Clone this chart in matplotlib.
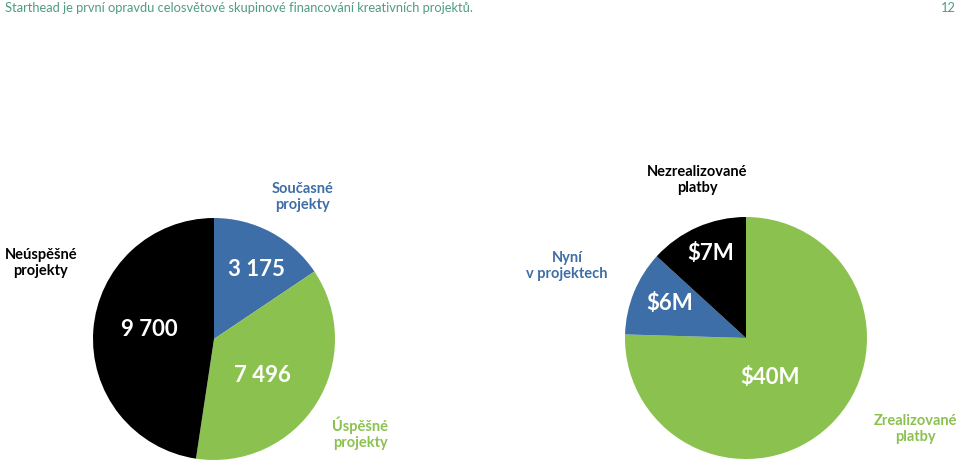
import matplotlib
matplotlib.use("Agg")
import matplotlib.pyplot as plt

plt.rcParams['font.family'] = ['Lato', 'DejaVu Sans']

W, H = 960, 468

title = "Starthead je první opravdu celosvětové skupinové financování kreativních projektů."
page_no = "12"

# Left pie: projects
proj_labels = ["Současné\nprojekty", "Úspěšné\nprojekty", "Neúspěšné\nprojekty"]
proj_values = [3175, 7496, 9700]
proj_texts = ["3 175", "7 496", "9 700"]

# Right pie: payments (millions USD)
pay_labels = ["Zrealizované\nplatby", "Nyní\nv projektech", "Nezrealizované\nplatby"]
pay_values = [40, 6, 7]
pay_texts = ["$40M", "$6M", "$7M"]

BLUE = "#3e6ea7"
GREEN = "#8bc24f"
BLACK = "#000000"
TITLE_C = "#4f9c80"

fig = plt.figure(figsize=(W / 100, H / 100), dpi=100)

def px_axes(cx, cy, r):
    return fig.add_axes([(cx - r) / W, (H - cy - r) / H, 2 * r / W, 2 * r / H])

def ftext(x, y, s, **kw):
    fig.text(x / W, 1 - y / H, s, **kw)

# Left pie
ax1 = px_axes(214, 339, 121)
ax1.pie(proj_values, colors=[BLUE, GREEN, BLACK], startangle=90, counterclock=False,
        radius=1, wedgeprops=dict(linewidth=0))
ax1.set_xlim(-1, 1); ax1.set_ylim(-1, 1); ax1.set_aspect('equal'); ax1.axis('off')

# Right pie
ax2 = px_axes(746, 338, 121)
ax2.pie(pay_values, colors=[GREEN, BLUE, BLACK], startangle=90, counterclock=False,
        radius=1, wedgeprops=dict(linewidth=0))
ax2.set_xlim(-1, 1); ax2.set_ylim(-1, 1); ax2.set_aspect('equal'); ax2.axis('off')

big = dict(color="white", fontsize=16, fontweight="bold", ha="center", va="center")
ftext(256, 270, proj_texts[0], **big)
ftext(262, 376, proj_texts[1], **big)
ftext(149, 330, proj_texts[2], **big)
ftext(770, 378, pay_texts[0], **big)
ftext(670, 304, pay_texts[1], **big)
ftext(711, 254, pay_texts[2], **big)

lab = dict(fontsize=10.5, fontweight="bold", ha="center", va="center", linespacing=1.15)
ftext(303, 197, proj_labels[0], color=BLUE, **lab)
ftext(360, 433, proj_labels[1], color=GREEN, **lab)
ftext(41, 263, proj_labels[2], color=BLACK, **lab)
ftext(915, 429, pay_labels[0], color=GREEN, **lab)
ftext(567, 266, pay_labels[1], color=BLUE, **lab)
ftext(697, 180, pay_labels[2], color=BLACK, **lab)

ftext(5, 8, title, color=TITLE_C, fontsize=9.3, ha="left", va="center")
ftext(956, 8, page_no, color=TITLE_C, fontsize=9.3, ha="right", va="center")

fig.savefig("out.png", dpi=100, facecolor="white")
